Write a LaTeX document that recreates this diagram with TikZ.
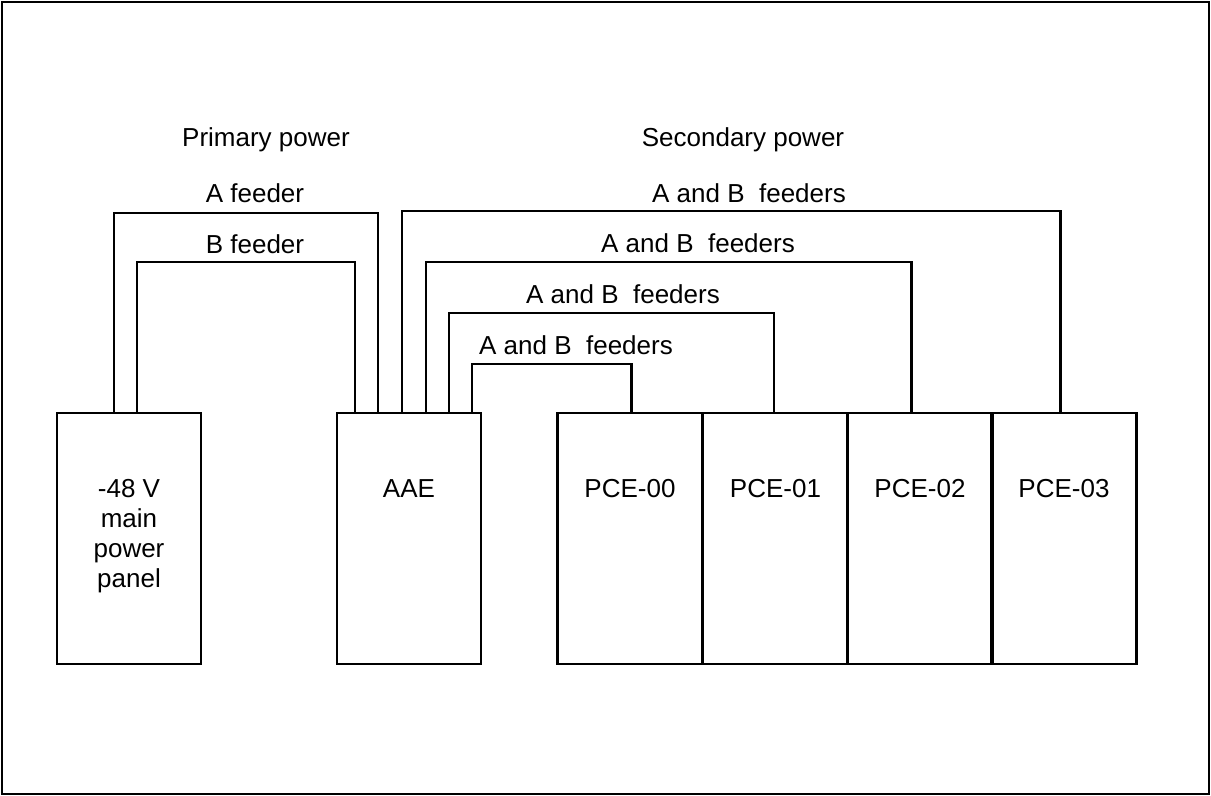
\documentclass[tikz,border=0pt]{standalone}
\usepackage{fontspec}
\setmainfont{Liberation Sans}
\begin{document}
\begin{tikzpicture}[x=0.5pt,y=-0.5pt,
    every node/.style={font=\fontsize{13}{15}\selectfont},
    unit/.style={shape=rectangle,draw=black,line width=1.1pt,inner sep=0pt,
        minimum width=72.5pt,minimum height=125.5pt},
    unittext/.style={anchor=north,inner sep=0pt,yshift=-33.5pt,align=center},
    feeder/.style={draw=black,line width=1.1pt},
    caption/.style={anchor=base,inner sep=0pt}]
    \useasboundingbox (0,0) rectangle (1211,796);
    \draw[line width=1pt] (2,2) rectangle (1209,794);
    \node[unit,minimum width=72pt,label={[unittext]north:-48 V\\main\\power\\panel}] (panel) at (129,538.5) {};
    \node[unit,minimum width=72pt,label={[unittext]north:AAE}] (aae) at (409,538.5) {};
    \node[unit,label={[unittext]north:PCE-00}] (pce0) at (630,538.5) {};
    \node[unit,label={[unittext]north:PCE-01}] (pce1) at (775.5,538.5) {};
    \node[unit,label={[unittext]north:PCE-02}] (pce2) at (920,538.5) {};
    \node[unit,label={[unittext]north:PCE-03}] (pce3) at (1064,538.5) {};
    \node[caption] (primary) at (266,147) {Primary power};
    \node[caption] (secondary) at (743,147) {Secondary power};
    \node[caption] (afeed) at (255,203) {A feeder};
    \node[caption] (bfeed) at (255,254) {B feeder};
    \node[caption] (ab3) at (749,203) {A and B\ \ feeders};
    \node[caption] (ab2) at (698,253) {A and B\ \ feeders};
    \node[caption] (ab1) at (623,304) {A and B\ \ feeders};
    \node[caption] (ab0) at (576,355) {A and B\ \ feeders};
    \path[feeder] ([xshift=29pt]panel.north west) -- ++(0,-199) -| ([xshift=21pt]aae.north west);
    \path[feeder] ([xshift=40.5pt]panel.north west) -- ++(0,-150) -| ([xshift=9.5pt]aae.north west);
    \path[feeder] ([xshift=33pt]aae.north west) -- ++(0,-201) -| ([xshift=35pt]pce3.north west);
    \path[feeder] ([xshift=45pt]aae.north west) -- ++(0,-150) -| ([xshift=32.5pt]pce2.north west);
    \path[feeder] ([xshift=56.5pt]aae.north west) -- ++(0,-99) -| ([xshift=36pt]pce1.north west);
    \path[feeder] ([xshift=68pt]aae.north west) -- ++(0,-48) -| ([xshift=37.5pt]pce0.north west);
\end{tikzpicture}
\end{document}
